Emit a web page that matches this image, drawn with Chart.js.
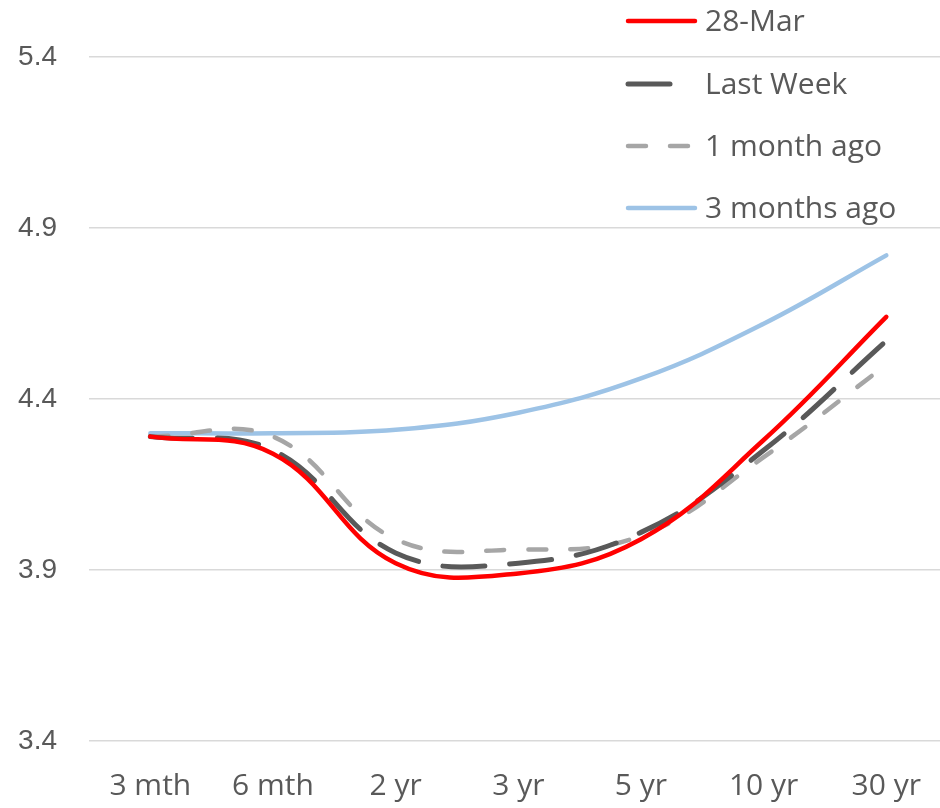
<!DOCTYPE html>
<html>
<head>
<meta charset="utf-8">
<script src="https://cdn.jsdelivr.net/npm/chart.js@4/dist/chart.umd.min.js"></script>
<style>
  html, body { margin: 0; padding: 0; background: #ffffff; overflow: hidden; }
  #wrap { position: relative; width: 948px; height: 808px; }
</style>
</head>
<body>
<div id="wrap"><canvas id="curve"></canvas></div>
<script>
// Yield curve by tenor (%)
const tenors = ['3 mth', '6 mth', '2 yr', '3 yr', '5 yr', '10 yr', '30 yr'];
const yTicks = [3.4, 3.9, 4.4, 4.9, 5.4];

const seriesNames = ['28-Mar', 'Last Week', '1 month ago', '3 months ago'];
const mar28      = [4.29, 4.24, 3.92, 3.89, 3.99, 4.28, 4.64];
const lastWeek   = [4.29, 4.25, 3.95, 3.92, 4.01, 4.25, 4.57];
const monthAgo   = [4.29, 4.29, 3.99, 3.96, 4.00, 4.23, 4.50];
const threeMonth = [4.30, 4.30, 4.31, 4.36, 4.46, 4.62, 4.82];

const TEXT = '#595959';

const styles = [
  { color: '#ff0000', width: 4.5, dash: [] },
  { color: '#595959', width: 5,   dash: [42, 25] },
  { color: '#a6a6a6', width: 4.5, dash: [18, 24] },
  { color: '#9dc3e6', width: 4.5, dash: [] }
];
const values = [mar28, lastWeek, monthAgo, threeMonth];

const datasets = values.map((v, i) => ({
  label: seriesNames[i],
  data: v,
  borderColor: styles[i].color,
  backgroundColor: styles[i].color,
  borderWidth: styles[i].width,
  borderDash: styles[i].dash,
  borderCapStyle: 'round',
  borderJoinStyle: 'round',
  tension: 0.4,
  pointRadius: 0,
  pointHoverRadius: 0,
  fill: false
}));
// draw order: earliest curves underneath, latest on top
datasets[0].order = 0;
datasets[1].order = 1;
datasets[2].order = 2;
datasets[3].order = 3;

// legend drawn inside the plot, top right
const insideLegend = {
  id: 'insideLegend',
  afterDraw(chart) {
    const ctx = chart.ctx;
    const rows = [21, 84, 146, 208];
    const x0 = 628, xText = 705;
    ctx.save();
    chart.data.datasets.forEach((ds, i) => {
      const y = rows[i];
      const x1 = ds.borderDash.length ? 689 : 695;
      ctx.beginPath();
      ctx.setLineDash(ds.borderDash);
      ctx.lineCap = 'round';
      ctx.strokeStyle = ds.borderColor;
      ctx.lineWidth = ds.borderWidth;
      ctx.moveTo(x0, y);
      ctx.lineTo(x1, y);
      ctx.stroke();
      ctx.setLineDash([]);
      ctx.fillStyle = TEXT;
      ctx.font = '30px "Open Sans"';
      ctx.textAlign = 'left';
      ctx.textBaseline = 'middle';
      ctx.fillText(ds.label, xText, y + 1);
    });
    ctx.restore();
  }
};

new Chart(document.getElementById('curve'), {
  type: 'line',
  data: { labels: tenors, datasets },
  plugins: [insideLegend],
  options: {
    responsive: true,
    maintainAspectRatio: false,
    animation: false,
    layout: { padding: { top: 57, right: 0, bottom: 0, left: 0 } },
    plugins: {
      legend: { display: false },
      tooltip: { enabled: false }
    },
    scales: {
      x: {
        offset: true,
        grid: { display: false, drawTicks: false },
        border: { display: false },
        ticks: {
          color: TEXT,
          font: { family: 'Open Sans', size: 30 },
          padding: 27,
          maxRotation: 0,
          autoSkip: false
        },
        afterFit(scale) { scale.height = 67; }
      },
      y: {
        min: 3.4,
        max: 5.4,
        afterBuildTicks(scale) { scale.ticks = yTicks.map(v => ({ value: v })); },
        grid: { color: '#d9d9d9', lineWidth: 1.4, drawTicks: false },
        border: { display: false },
        ticks: {
          color: TEXT,
          font: { family: 'Liberation Sans', size: 28 },
          padding: 32,
          callback: v => v.toFixed(1)
        },
        afterFit(scale) { scale.width = 89; }
      }
    }
  }
});
</script>
</body>
</html>
